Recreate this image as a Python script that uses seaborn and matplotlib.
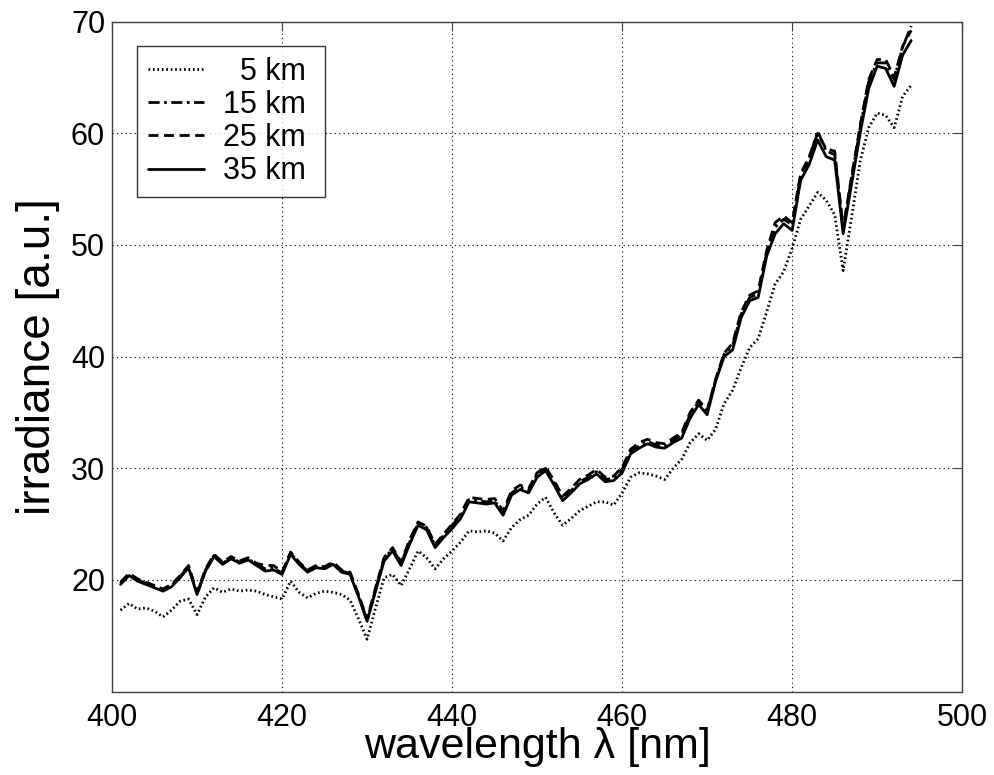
import numpy as np
import pandas as pd
import matplotlib
matplotlib.use("Agg")
import matplotlib.pyplot as plt
import seaborn as sns

# longitud de onda [nm]
wavelength = list(range(401, 495))

# irradiancia a 5 km (punteada)
irr_5km = [17.3, 17.9, 17.4, 17.5, 17.2, 16.7, 17.3, 18.1, 18.3, 16.9,
           18.5, 19.3, 18.9, 19.2, 19.0, 19.1, 19.0, 18.7, 18.5, 18.3,
           19.9, 18.9, 18.4, 18.8, 19.0, 18.9, 18.7, 18.2, 16.5, 14.7,
           17.5, 20.2, 20.5, 19.5, 21.0, 22.6, 22.0, 21.0, 21.9, 22.6,
           23.4, 24.4, 24.3, 24.4, 24.2, 23.5, 24.7, 25.4, 25.8, 26.8,
           27.4, 26.0, 24.9, 25.5, 26.2, 26.6, 27.0, 27.0, 26.7, 27.8,
           29.2, 29.6, 29.5, 29.3, 29.0, 30.0, 30.8, 32.3, 33.1, 32.5,
           33.5, 35.8, 37.0, 39.0, 40.8, 41.6, 44.0, 46.5, 47.6, 49.7,
           52.3, 53.5, 54.7, 54.0, 52.7, 47.7, 52.5, 57.5, 60.5, 61.8,
           61.6, 60.5, 63.3, 64.3]

# irradiancia a 15 km (raya-punto)
irr_15km = [19.7, 20.5, 20.0, 19.7, 19.4, 19.1, 19.5, 20.3, 21.2, 18.8,
            20.9, 22.2, 21.5, 22.0, 21.6, 21.9, 21.4, 21.0, 21.1, 20.6,
            22.4, 21.5, 20.8, 21.2, 21.1, 21.5, 20.8, 20.6, 18.6, 16.4,
            19.2, 21.9, 22.8, 21.5, 23.4, 25.1, 24.7, 23.1, 24.0, 24.9,
            25.7, 27.2, 27.1, 27.0, 27.1, 26.0, 27.8, 28.3, 28.0, 29.5,
            30.0, 28.7, 27.3, 28.0, 28.8, 29.2, 29.7, 29.0, 29.1, 29.9,
            31.5, 32.0, 32.4, 32.1, 32.0, 32.5, 33.0, 34.8, 36.0, 35.1,
            37.9, 40.2, 41.0, 43.8, 45.3, 45.6, 49.3, 51.6, 52.3, 51.8,
            56.2, 57.7, 60.2, 58.4, 58.1, 51.4, 56.0, 60.5, 64.6, 66.3,
            66.3, 64.8, 67.7, 69.6]

# irradiancia a 25 km (rayas)
irr_25km = [19.8, 20.6, 20.1, 19.8, 19.5, 19.2, 19.6, 20.4, 21.3, 18.9,
            21.0, 22.3, 21.6, 22.1, 21.7, 22.0, 21.5, 21.3, 21.3, 20.7,
            22.5, 21.6, 20.9, 21.3, 21.2, 21.6, 20.9, 20.7, 18.7, 16.5,
            19.3, 22.0, 22.9, 21.6, 23.6, 25.2, 24.8, 23.2, 24.1, 25.0,
            25.9, 27.4, 27.3, 27.2, 27.3, 26.2, 28.0, 28.5, 28.2, 29.6,
            30.1, 28.9, 27.5, 28.2, 29.0, 29.4, 29.9, 29.2, 29.3, 30.1,
            31.7, 32.3, 32.6, 32.3, 32.2, 32.7, 33.2, 35.0, 36.1, 35.2,
            38.0, 40.3, 41.2, 44.0, 45.5, 45.9, 49.5, 52.0, 52.6, 52.0,
            56.4, 57.9, 60.0, 58.6, 58.4, 51.5, 56.2, 60.7, 64.8, 66.6,
            66.6, 65.0, 67.8, 69.2]

# irradiancia a 35 km (continua)
irr_35km = [19.6, 20.4, 19.9, 19.6, 19.3, 19.0, 19.4, 20.2, 21.1, 18.7,
            20.8, 22.1, 21.4, 21.9, 21.5, 21.8, 21.3, 20.8, 20.9, 20.5,
            22.3, 21.4, 20.7, 21.1, 21.0, 21.4, 20.7, 20.5, 18.5, 16.3,
            19.0, 21.7, 22.6, 21.3, 23.2, 24.9, 24.5, 22.9, 23.8, 24.6,
            25.5, 27.0, 26.9, 26.8, 26.9, 25.8, 27.6, 28.1, 27.8, 29.2,
            29.8, 28.5, 27.1, 27.8, 28.6, 29.0, 29.5, 28.8, 28.9, 29.6,
            31.3, 31.8, 32.2, 31.9, 31.8, 32.3, 32.7, 34.5, 35.7, 34.8,
            37.8, 40.0, 40.6, 43.5, 45.0, 45.3, 49.0, 51.0, 51.9, 51.3,
            55.8, 57.2, 59.4, 57.9, 57.6, 51.0, 55.5, 60.0, 64.0, 66.0,
            65.8, 64.2, 67.0, 68.3]

series_labels = ["  5 km ", "15 km ", "25 km ", "35 km "]
series_values = [irr_5km, irr_15km, irr_25km, irr_35km]
line_styles = [(0, (0.6, 1.0)), (0, (4, 1.6, 1, 1.6)), (0, (3.6, 2.0)), "-"]

sns.set_theme(style="white")
plt.rcParams["font.family"] = ["Liberation Sans", "DejaVu Sans"]
plt.rcParams["text.color"] = "black"
plt.rcParams["axes.labelcolor"] = "black"
plt.rcParams["xtick.labelcolor"] = "black"
plt.rcParams["ytick.labelcolor"] = "black"

fig = plt.figure(figsize=(9.94, 7.75), dpi=100)
ax = fig.add_axes([0.1127, 0.1075, 0.8553, 0.8647])

for label, vals, ls in zip(series_labels, series_values, line_styles):
    sns.lineplot(x=wavelength, y=vals, ax=ax, color="black", linestyle=ls,
                 linewidth=2.0, label=label, sort=False)

ax.set_xlim(400, 500)
ax.set_ylim(10.0, 70)
ax.set_xticks([400, 420, 440, 460, 480, 500])
ax.set_yticks([20, 30, 40, 50, 60, 70])

ax.grid(True, color="black", linestyle=(0, (1, 3)), linewidth=0.8)
for s in ax.spines.values():
    s.set_color("#404040")
    s.set_linewidth(1.0)
ax.tick_params(direction="in", length=6.5, width=0.8, color="#404040",
               top=True, right=True, labelsize=22)
ax.tick_params(axis="x", pad=8)
ax.tick_params(axis="y", pad=5)

ax.set_xlabel("wavelength λ [nm]", fontsize=31, labelpad=-4)
ax.set_ylabel("irradiance [a.u.]", fontsize=33, labelpad=8)

leg = ax.legend(loc="upper left", bbox_to_anchor=(0.0294, 0.963),
                borderaxespad=0, fontsize=22, handlelength=1.85,
                handletextpad=0.6, labelspacing=0.1, borderpad=0.35,
                fancybox=False, frameon=True)
leg.get_frame().set_edgecolor("black")
leg.get_frame().set_linewidth(1.0)

plt.savefig("out.png", dpi=100)
